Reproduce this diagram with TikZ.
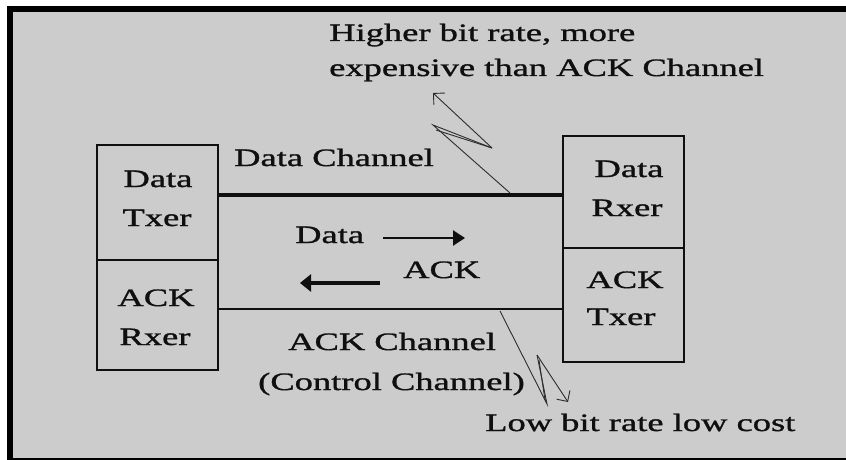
\documentclass[tikz,border=0pt]{standalone}
\usepackage{fontspec}
\setmainfont{Liberation Serif}[FakeStretch=1.46,FakeBold=1.2]
\usetikzlibrary{arrows.meta}
\definecolor{bggray}{RGB}{204,204,204}
\definecolor{ink}{RGB}{15,15,15}
\definecolor{thin}{RGB}{45,45,45}
\begin{document}
\begin{tikzpicture}[x=1pt,y=-1pt,
  box/.style={draw=ink,line width=2.8pt,minimum width=121pt,inner sep=0pt},
  lbl/.style={anchor=base,inner sep=0pt,text=ink,font=\fontsize{25}{30}\selectfont},
  lblw/.style={anchor=base west,inner sep=0pt,text=ink,font=\fontsize{25}{30}\selectfont},
  bolt/.style={draw=thin,line width=0.9pt,line join=miter},
  barb/.style={-{Straight Barb[length=8pt,width=16pt,line width=0.9pt]}},
  bigarrow/.style={draw=ink,-{Triangle[length=12pt,width=15pt]}}]
\useasboundingbox (0,0) rectangle (846,460);
% frame
\fill[white] (0,0) rectangle (846,460);
\fill[black] (7,6) rectangle (846,460);
\fill[bggray] (13,12) rectangle (846,458);
% boxes
\node[box,minimum height=115pt] (dtx) at (157.5,202.5) {};
\node[box,minimum height=110pt] (arx) at (157.5,315) {};
\node[box,minimum height=112pt] (drx) at (623.5,192) {};
\node[box,minimum height=114pt] (atx) at (623.5,305) {};
% box labels
\node[lbl] (dtx1) at (158,187) {Data};
\node[lbl] (dtx2) at (157,226) {Txer};
\node[lbl] (arx1) at (156,306) {ACK};
\node[lbl] (arx2) at (155,345) {Rxer};
\node[lbl] (drx1) at (629,177) {Data};
\node[lbl] (drx2) at (627,216) {Rxer};
\node[lbl] (atx1) at (625,288) {ACK};
\node[lbl] (atx2) at (621,325) {Txer};
% channels
\coordinate (ydata) at (0,195);
\coordinate (yack) at (0,309);
\draw[ink,line width=4.6pt] (dtx.east |- ydata) -- (drx.west |- ydata);
\draw[ink,line width=2.6pt] (arx.east |- yack) -- (atx.west |- yack);
% channel labels
\node[lblw] (dch) at (234,166) {Data Channel};
\node[lblw] (ach) at (288,350) {ACK Channel};
\node[lblw] (cch) at (258,390) {(Control Channel)};
\node[lblw] (hi1) at (329,41) {Higher bit rate, more};
\node[lblw] (hi2) at (329,76) {expensive than ACK Channel};
\node[lblw] (low) at (485,431) {Low bit rate low cost};
% middle flow
\node[lblw] (mdata) at (295,243) {Data};
\node[lblw] (mack) at (403,278) {ACK};
\coordinate (da1) at (383,238);
\coordinate (da2) at (465,238);
\coordinate (aa1) at (380,283);
\coordinate (aa2) at (300,283);
\draw[bigarrow,line width=2.6pt] (da1) -- (da2);
\draw[bigarrow,line width=4.6pt,-{Triangle[length=11pt,width=17pt]}] (aa1) -- (aa2);
% upper lightning
\coordinate (u0) at (510,193);
\coordinate (u1) at (433,125);
\coordinate (u2) at (492,148);
\coordinate (u3) at (433,93);
\draw[bolt] (u0) -- (u1) -- (u2);
\draw[bolt] (436,130) -- (u2);
\draw[bolt,barb] (u2) -- (u3);
% lower lightning
\coordinate (l0) at (500,311);
\coordinate (l1) at (547,404);
\coordinate (l2) at (537,355);
\coordinate (l3) at (568,402);
\draw[bolt] (l0) -- (l1) -- (l2);
\draw[bolt] (539,360) -- (545,400);
\draw[bolt,barb] (l2) -- (l3);
\end{tikzpicture}
\end{document}
